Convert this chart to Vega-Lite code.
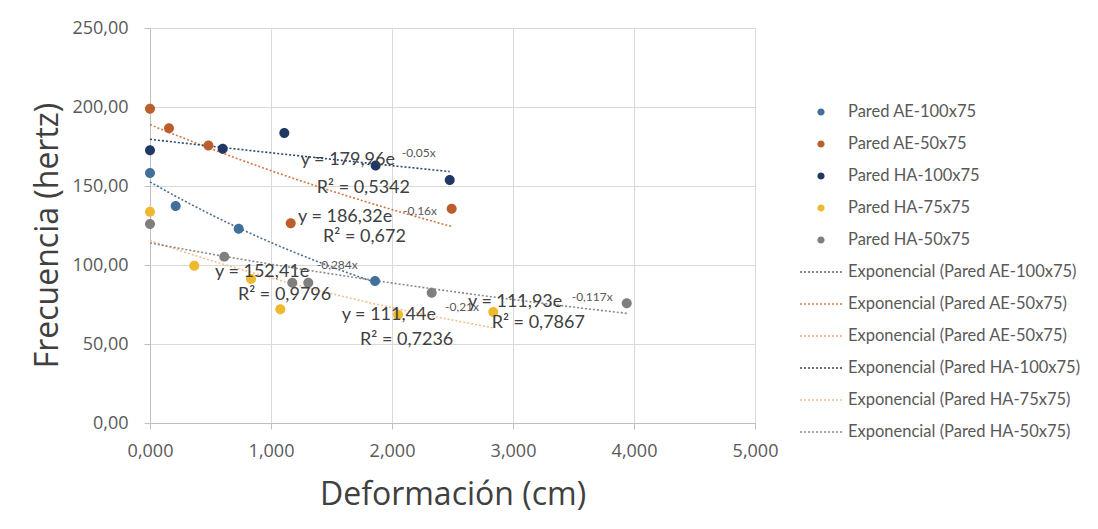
{
  "$schema": "https://vega.github.io/schema/vega-lite/v6.json",
  "width": 605,
  "height": 395,
  "autosize": {"type": "none"},
  "padding": {"left": 150, "top": 28, "right": 343, "bottom": 106},
  "background": "white",
  "config": {
    "font": "Open Sans",
    "locale": {"number": {"decimal": ",", "thousands": ".", "grouping": [3], "currency": ["", " €"]}},
    "view": {"stroke": null},
    "axis": {
      "gridColor": "#d9d9d9",
      "gridWidth": 1,
      "domainColor": "#bfbfbf",
      "tickColor": "#bfbfbf",
      "tickSize": 6,
      "labelColor": "#595959",
      "labelFontSize": 18,
      "labelFont": "Open Sans",
      "labelFlush": false,
      "titleColor": "#404040",
      "titleFont": "Open Sans",
      "titleFontSize": 32,
      "titleFontWeight": "normal"
    }
  },
  "datasets": {
    "puntos": [
      {"name": "Pared AE-100x75", "trend": "Exponencial (Pared AE-100x75)", "deformacion": 0.0, "frecuencia": 158.2},
      {"name": "Pared AE-100x75", "trend": "Exponencial (Pared AE-100x75)", "deformacion": 0.212, "frecuencia": 137.3},
      {"name": "Pared AE-100x75", "trend": "Exponencial (Pared AE-100x75)", "deformacion": 0.733, "frecuencia": 123.0},
      {"name": "Pared AE-100x75", "trend": "Exponencial (Pared AE-100x75)", "deformacion": 1.86, "frecuencia": 89.9},
      {"name": "Pared AE-50x75", "trend": "Exponencial (Pared AE-50x75)", "deformacion": 0.0, "frecuencia": 198.9},
      {"name": "Pared AE-50x75", "trend": "Exponencial (Pared AE-50x75)", "deformacion": 0.157, "frecuencia": 186.5},
      {"name": "Pared AE-50x75", "trend": "Exponencial (Pared AE-50x75)", "deformacion": 0.483, "frecuencia": 175.7},
      {"name": "Pared AE-50x75", "trend": "Exponencial (Pared AE-50x75)", "deformacion": 1.163, "frecuencia": 126.4},
      {"name": "Pared AE-50x75", "trend": "Exponencial (Pared AE-50x75)", "deformacion": 2.493, "frecuencia": 135.6},
      {"name": "Pared HA-100x75", "trend": "Exponencial (Pared HA-100x75)", "deformacion": 0.0, "frecuencia": 172.6},
      {"name": "Pared HA-100x75", "trend": "Exponencial (Pared HA-100x75)", "deformacion": 0.601, "frecuencia": 173.6},
      {"name": "Pared HA-100x75", "trend": "Exponencial (Pared HA-100x75)", "deformacion": 1.11, "frecuencia": 183.5},
      {"name": "Pared HA-100x75", "trend": "Exponencial (Pared HA-100x75)", "deformacion": 1.865, "frecuencia": 162.9},
      {"name": "Pared HA-100x75", "trend": "Exponencial (Pared HA-100x75)", "deformacion": 2.477, "frecuencia": 153.8},
      {"name": "Pared HA-75x75", "trend": "Exponencial (Pared HA-75x75)", "deformacion": 0.0, "frecuencia": 133.7},
      {"name": "Pared HA-75x75", "trend": "Exponencial (Pared HA-75x75)", "deformacion": 0.366, "frecuencia": 99.6},
      {"name": "Pared HA-75x75", "trend": "Exponencial (Pared HA-75x75)", "deformacion": 0.835, "frecuencia": 91.1},
      {"name": "Pared HA-75x75", "trend": "Exponencial (Pared HA-75x75)", "deformacion": 1.077, "frecuencia": 72.0},
      {"name": "Pared HA-75x75", "trend": "Exponencial (Pared HA-75x75)", "deformacion": 2.05, "frecuencia": 68.5},
      {"name": "Pared HA-75x75", "trend": "Exponencial (Pared HA-75x75)", "deformacion": 2.837, "frecuencia": 70.3},
      {"name": "Pared HA-50x75", "trend": "Exponencial (Pared HA-50x75)", "deformacion": 0.0, "frecuencia": 125.9},
      {"name": "Pared HA-50x75", "trend": "Exponencial (Pared HA-50x75)", "deformacion": 0.614, "frecuencia": 105.3},
      {"name": "Pared HA-50x75", "trend": "Exponencial (Pared HA-50x75)", "deformacion": 1.176, "frecuencia": 88.8},
      {"name": "Pared HA-50x75", "trend": "Exponencial (Pared HA-50x75)", "deformacion": 1.308, "frecuencia": 88.8},
      {"name": "Pared HA-50x75", "trend": "Exponencial (Pared HA-50x75)", "deformacion": 2.328, "frecuencia": 82.5},
      {"name": "Pared HA-50x75", "trend": "Exponencial (Pared HA-50x75)", "deformacion": 3.94, "frecuencia": 75.8}
    ],
    "ecuaciones": [
      {"deformacion": 1.245, "frecuencia": 166.5, "texto": "y = 179,96e"},
      {"deformacion": 1.378, "frecuencia": 148.9, "texto": "R² = 0,5342"},
      {"deformacion": 1.223, "frecuencia": 130.6, "texto": "y = 186,32e"},
      {"deformacion": 1.43, "frecuencia": 117.9, "texto": "R² = 0,672"},
      {"deformacion": 0.537, "frecuencia": 95.8, "texto": "y = 152,41e"},
      {"deformacion": 0.727, "frecuencia": 81.0, "texto": "R² = 0,9796"},
      {"deformacion": 1.584, "frecuencia": 68.4, "texto": "y = 111,44e"},
      {"deformacion": 1.736, "frecuencia": 52.5, "texto": "R² = 0,7236"},
      {"deformacion": 2.628, "frecuencia": 76.8, "texto": "y = 111,93e"},
      {"deformacion": 2.824, "frecuencia": 63.1, "texto": "R² = 0,7867"}
    ],
    "exponentes": [
      {"deformacion": 2.08, "frecuencia": 170.9, "texto": "-0,05x"},
      {"deformacion": 2.091, "frecuencia": 134.2, "texto": "-0,16x"},
      {"deformacion": 1.378, "frecuencia": 100.0, "texto": "-0,284x"},
      {"deformacion": 2.438, "frecuencia": 73.4, "texto": "-0,21x"},
      {"deformacion": 3.485, "frecuencia": 79.9, "texto": "-0,117x"}
    ]
  },
  "layer": [
    {
      "data": {"name": "puntos"},
      "transform": [
        {"regression": "frecuencia", "on": "deformacion", "method": "exp", "groupby": ["trend"]}
      ],
      "mark": {"type": "line", "strokeDash": [2, 2], "strokeWidth": 1.6, "interpolate": "monotone"},
      "encoding": {
        "x": {"field": "deformacion", "type": "quantitative"},
        "y": {"field": "frecuencia", "type": "quantitative"},
        "stroke": {
          "field": "trend",
          "type": "nominal",
          "scale": {
            "domain": [
              "Exponencial (Pared AE-100x75)", "Exponencial (Pared AE-50x75)",
              "Exponencial (Pared HA-100x75)", "Exponencial (Pared HA-75x75)", "Exponencial (Pared HA-50x75)"
            ],
            "range": ["#4A6D92", "#D27842", "#2C4676", "#F4BE8E", "#8A8A8A"]
          },
          "legend": null
        }
      }
    },
    {
      "data": {"name": "puntos"},
      "mark": {"type": "point", "filled": true, "opacity": 1, "size": 770, "strokeWidth": 0},
      "encoding": {
        "x": {
          "field": "deformacion",
          "type": "quantitative",
          "scale": {"domain": [0, 5], "nice": false, "zero": true},
          "axis": {
            "values": [0, 1, 2, 3, 4, 5],
            "format": ".3f",
            "title": "Deformación (cm)",
            "titlePadding": 19,
            "labelPadding": 13
          }
        },
        "y": {
          "field": "frecuencia",
          "type": "quantitative",
          "scale": {"domain": [0, 250], "nice": false},
          "axis": {
            "values": [0, 50, 100, 150, 200, 250],
            "format": ".2f",
            "title": "Frecuencia (hertz)",
            "titlePadding": 7,
            "titleY": 207,
            "labelPadding": 16
          }
        },
        "color": {
          "field": "name",
          "type": "nominal",
          "scale": {
            "domain": [
              "Pared AE-100x75", "Pared AE-50x75", "Pared HA-100x75", "Pared HA-75x75", "Pared HA-50x75",
              "Exponencial (Pared AE-100x75)", "Exponencial (Pared AE-50x75)", "Exponencial (Pared AE-50x75) ",
              "Exponencial (Pared HA-100x75)", "Exponencial (Pared HA-75x75)", "Exponencial (Pared HA-50x75)"
            ],
            "range": [
              "#41709B", "#BA5E2C", "#1F3864", "#EFB92E", "#7F7F7F",
              "#4A6D92", "#D27842", "#F2A57A", "#2C4676", "#F4BE8E", "#8A8A8A"
            ]
          },
          "legend": {
            "title": null,
            "orient": "none",
            "legendX": 661,
            "legendY": 74,
            "padding": 0,
            "symbolSize": 400,
            "symbolStrokeWidth": 0,
            "rowPadding": 13,
            "labelOffset": 17,
            "labelFont": "Lato",
            "labelFontSize": 16.5,
            "labelColor": "#595959",
            "labelLimit": 400
          }
        },
        "shape": {
          "field": "name",
          "type": "nominal",
          "scale": {
            "domain": [
              "Pared AE-100x75", "Pared AE-50x75", "Pared HA-100x75", "Pared HA-75x75", "Pared HA-50x75",
              "Exponencial (Pared AE-100x75)", "Exponencial (Pared AE-50x75)", "Exponencial (Pared AE-50x75) ",
              "Exponencial (Pared HA-100x75)", "Exponencial (Pared HA-75x75)", "Exponencial (Pared HA-50x75)"
            ],
            "range": [
              "M0.36,0A0.36,0.36,0,1,1,-0.36,0A0.36,0.36,0,1,1,0.36,0Z",
              "M0.36,0A0.36,0.36,0,1,1,-0.36,0A0.36,0.36,0,1,1,0.36,0Z",
              "M0.36,0A0.36,0.36,0,1,1,-0.36,0A0.36,0.36,0,1,1,0.36,0Z",
              "M0.36,0A0.36,0.36,0,1,1,-0.36,0A0.36,0.36,0,1,1,0.36,0Z",
              "M0.36,0A0.36,0.36,0,1,1,-0.36,0A0.36,0.36,0,1,1,0.36,0Z",
              "M-2.1,-0.08h0.2v0.16h-0.2ZM-1.7,-0.08h0.2v0.16h-0.2ZM-1.3,-0.08h0.2v0.16h-0.2ZM-0.9,-0.08h0.2v0.16h-0.2ZM-0.5,-0.08h0.2v0.16h-0.2ZM-0.1,-0.08h0.2v0.16h-0.2ZM0.3,-0.08h0.2v0.16h-0.2ZM0.7,-0.08h0.2v0.16h-0.2ZM1.1,-0.08h0.2v0.16h-0.2ZM1.5,-0.08h0.2v0.16h-0.2ZM1.9,-0.08h0.2v0.16h-0.2Z",
              "M-2.1,-0.08h0.2v0.16h-0.2ZM-1.7,-0.08h0.2v0.16h-0.2ZM-1.3,-0.08h0.2v0.16h-0.2ZM-0.9,-0.08h0.2v0.16h-0.2ZM-0.5,-0.08h0.2v0.16h-0.2ZM-0.1,-0.08h0.2v0.16h-0.2ZM0.3,-0.08h0.2v0.16h-0.2ZM0.7,-0.08h0.2v0.16h-0.2ZM1.1,-0.08h0.2v0.16h-0.2ZM1.5,-0.08h0.2v0.16h-0.2ZM1.9,-0.08h0.2v0.16h-0.2Z",
              "M-2.1,-0.08h0.2v0.16h-0.2ZM-1.7,-0.08h0.2v0.16h-0.2ZM-1.3,-0.08h0.2v0.16h-0.2ZM-0.9,-0.08h0.2v0.16h-0.2ZM-0.5,-0.08h0.2v0.16h-0.2ZM-0.1,-0.08h0.2v0.16h-0.2ZM0.3,-0.08h0.2v0.16h-0.2ZM0.7,-0.08h0.2v0.16h-0.2ZM1.1,-0.08h0.2v0.16h-0.2ZM1.5,-0.08h0.2v0.16h-0.2ZM1.9,-0.08h0.2v0.16h-0.2Z",
              "M-2.1,-0.08h0.2v0.16h-0.2ZM-1.7,-0.08h0.2v0.16h-0.2ZM-1.3,-0.08h0.2v0.16h-0.2ZM-0.9,-0.08h0.2v0.16h-0.2ZM-0.5,-0.08h0.2v0.16h-0.2ZM-0.1,-0.08h0.2v0.16h-0.2ZM0.3,-0.08h0.2v0.16h-0.2ZM0.7,-0.08h0.2v0.16h-0.2ZM1.1,-0.08h0.2v0.16h-0.2ZM1.5,-0.08h0.2v0.16h-0.2ZM1.9,-0.08h0.2v0.16h-0.2Z",
              "M-2.1,-0.08h0.2v0.16h-0.2ZM-1.7,-0.08h0.2v0.16h-0.2ZM-1.3,-0.08h0.2v0.16h-0.2ZM-0.9,-0.08h0.2v0.16h-0.2ZM-0.5,-0.08h0.2v0.16h-0.2ZM-0.1,-0.08h0.2v0.16h-0.2ZM0.3,-0.08h0.2v0.16h-0.2ZM0.7,-0.08h0.2v0.16h-0.2ZM1.1,-0.08h0.2v0.16h-0.2ZM1.5,-0.08h0.2v0.16h-0.2ZM1.9,-0.08h0.2v0.16h-0.2Z",
              "M-2.1,-0.08h0.2v0.16h-0.2ZM-1.7,-0.08h0.2v0.16h-0.2ZM-1.3,-0.08h0.2v0.16h-0.2ZM-0.9,-0.08h0.2v0.16h-0.2ZM-0.5,-0.08h0.2v0.16h-0.2ZM-0.1,-0.08h0.2v0.16h-0.2ZM0.3,-0.08h0.2v0.16h-0.2ZM0.7,-0.08h0.2v0.16h-0.2ZM1.1,-0.08h0.2v0.16h-0.2ZM1.5,-0.08h0.2v0.16h-0.2ZM1.9,-0.08h0.2v0.16h-0.2Z"
            ]
          },
          "legend": {
            "title": null,
            "orient": "none",
            "legendX": 661,
            "legendY": 74,
            "padding": 0,
            "symbolSize": 400,
            "symbolStrokeWidth": 0,
            "rowPadding": 13,
            "labelOffset": 17,
            "labelFont": "Lato",
            "labelFontSize": 16.5,
            "labelColor": "#595959",
            "labelLimit": 400
          }
        }
      }
    },
    {
      "data": {"name": "ecuaciones"},
      "mark": {"type": "text", "align": "left", "baseline": "middle", "font": "Lato", "fontSize": 18, "color": "#404040"},
      "encoding": {
        "x": {"field": "deformacion", "type": "quantitative"},
        "y": {"field": "frecuencia", "type": "quantitative"},
        "text": {"field": "texto"}
      }
    },
    {
      "data": {"name": "exponentes"},
      "mark": {"type": "text", "align": "left", "baseline": "middle", "font": "Lato", "fontSize": 12, "color": "#595959"},
      "encoding": {
        "x": {"field": "deformacion", "type": "quantitative"},
        "y": {"field": "frecuencia", "type": "quantitative"},
        "text": {"field": "texto"}
      }
    }
  ]
}
